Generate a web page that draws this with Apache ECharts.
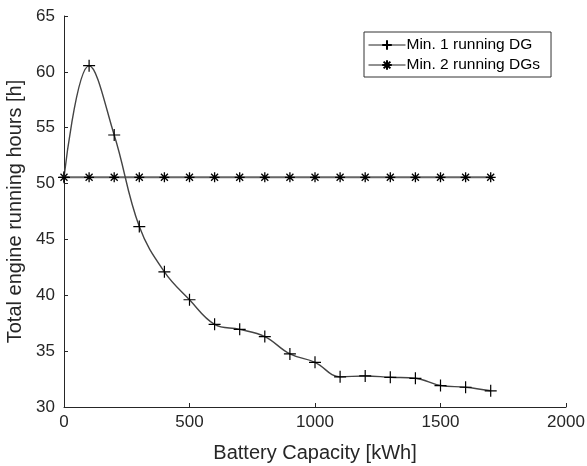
<!DOCTYPE html>
<html lang="en">
<head>
    <meta charset="UTF-8">
    <title>Engine running hours</title>
    <script src="https://cdn.jsdelivr.net/npm/echarts@6/dist/echarts.min.js"></script>
</head>
<body style="margin:0">
    <div id="main" style="width: 587px; height: 466px;"></div>
    <script>
        // battery capacity steps [kWh]
        const capacity = [0, 100, 200, 300, 400, 500, 600, 700, 800, 900, 1000, 1100, 1200, 1300, 1400, 1500, 1600, 1700]
        // total engine running hours [h]
        const oneDG = [50.56, 60.55, 54.35, 46.15, 42.1, 39.6, 37.4, 36.95, 36.3, 34.75, 34.0, 32.7, 32.78, 32.66, 32.57, 31.92, 31.77, 31.45]
        const twoDG = [50.56, 50.56, 50.56, 50.56, 50.56, 50.56, 50.56, 50.56, 50.56, 50.56, 50.56, 50.56, 50.56, 50.56, 50.56, 50.56, 50.56, 50.56]
        const names = ['Min. 1 running DG', 'Min. 2 running DGs']

        const plusIcon = 'path://M0,5L10,5M5,0L5,10'
        const starIcon = 'path://M5,0L5,10M0,5L10,5M1.5,1.5L8.5,8.5M8.5,1.5L1.5,8.5'

        var myChart = echarts.init(document.getElementById('main'));
        const axisColor = '#262626'
        const font = 'Liberation Sans, Arial, sans-serif'

        let option = {
            animation: false,
            grid: { left: 64, right: 21, top: 16, bottom: 59, outerBoundsMode: 'none', containLabel: false },
            legend: {
                orient: 'vertical',
                left: 364,
                top: 32,
                padding: [5, 11, 4, 4],
                itemGap: 4,
                itemWidth: 37,
                itemHeight: 12,
                borderColor: '#333',
                borderWidth: 1,
                backgroundColor: '#fff',
                lineStyle: { width: 1, color: '#222' },
                textStyle: { fontFamily: font, fontSize: 15.5, color: '#000', padding: [0, 0, 0, -4] },
                data: names
            },
            xAxis: {
                type: 'value',
                min: 0, max: 2000, interval: 500,
                name: 'Battery Capacity [kWh]',
                nameLocation: 'middle',
                nameGap: 36,
                nameTextStyle: { fontFamily: font, fontSize: 20, color: axisColor },
                axisLine: { lineStyle: { color: axisColor } },
                axisTick: { inside: true, length: 4, lineStyle: { color: axisColor } },
                axisLabel: { fontFamily: font, fontSize: 17, color: axisColor, margin: 7, formatter: v => String(v) },
                splitLine: { show: false }
            },
            yAxis: {
                type: 'value',
                min: 30, max: 65, interval: 5,
                name: 'Total engine running hours [h]',
                nameLocation: 'middle',
                nameGap: 33,
                nameRotate: 90,
                nameTextStyle: { fontFamily: font, fontSize: 20, color: axisColor },
                axisLine: { show: true, lineStyle: { color: axisColor } },
                axisTick: { show: true, inside: true, length: 4, lineStyle: { color: axisColor } },
                axisLabel: { fontFamily: font, fontSize: 17, color: axisColor, margin: 9, formatter: v => String(v) },
                splitLine: { show: false }
            },
            series: [
                {
                    name: names[0],
                    type: 'line',
                    smooth: 0.4,
                    data: capacity.map((c, i) => [c, oneDG[i]]),
                    symbol: plusIcon,
                    symbolSize: 12,
                    showAllSymbol: true,
                    lineStyle: { color: '#444', width: 1.4 },
                    itemStyle: { color: 'none', borderColor: '#000', borderWidth: 1.2 },
                    z: 3
                },
                {
                    name: names[1],
                    type: 'line',
                    data: capacity.map((c, i) => [c, twoDG[i]]),
                    symbol: starIcon,
                    symbolSize: 10,
                    showAllSymbol: true,
                    lineStyle: { color: '#666', width: 2 },
                    itemStyle: { color: 'none', borderColor: '#000', borderWidth: 1.3 },
                    z: 2
                }
            ]
        }

        myChart.setOption(option);
    </script>
</body>
</html>
